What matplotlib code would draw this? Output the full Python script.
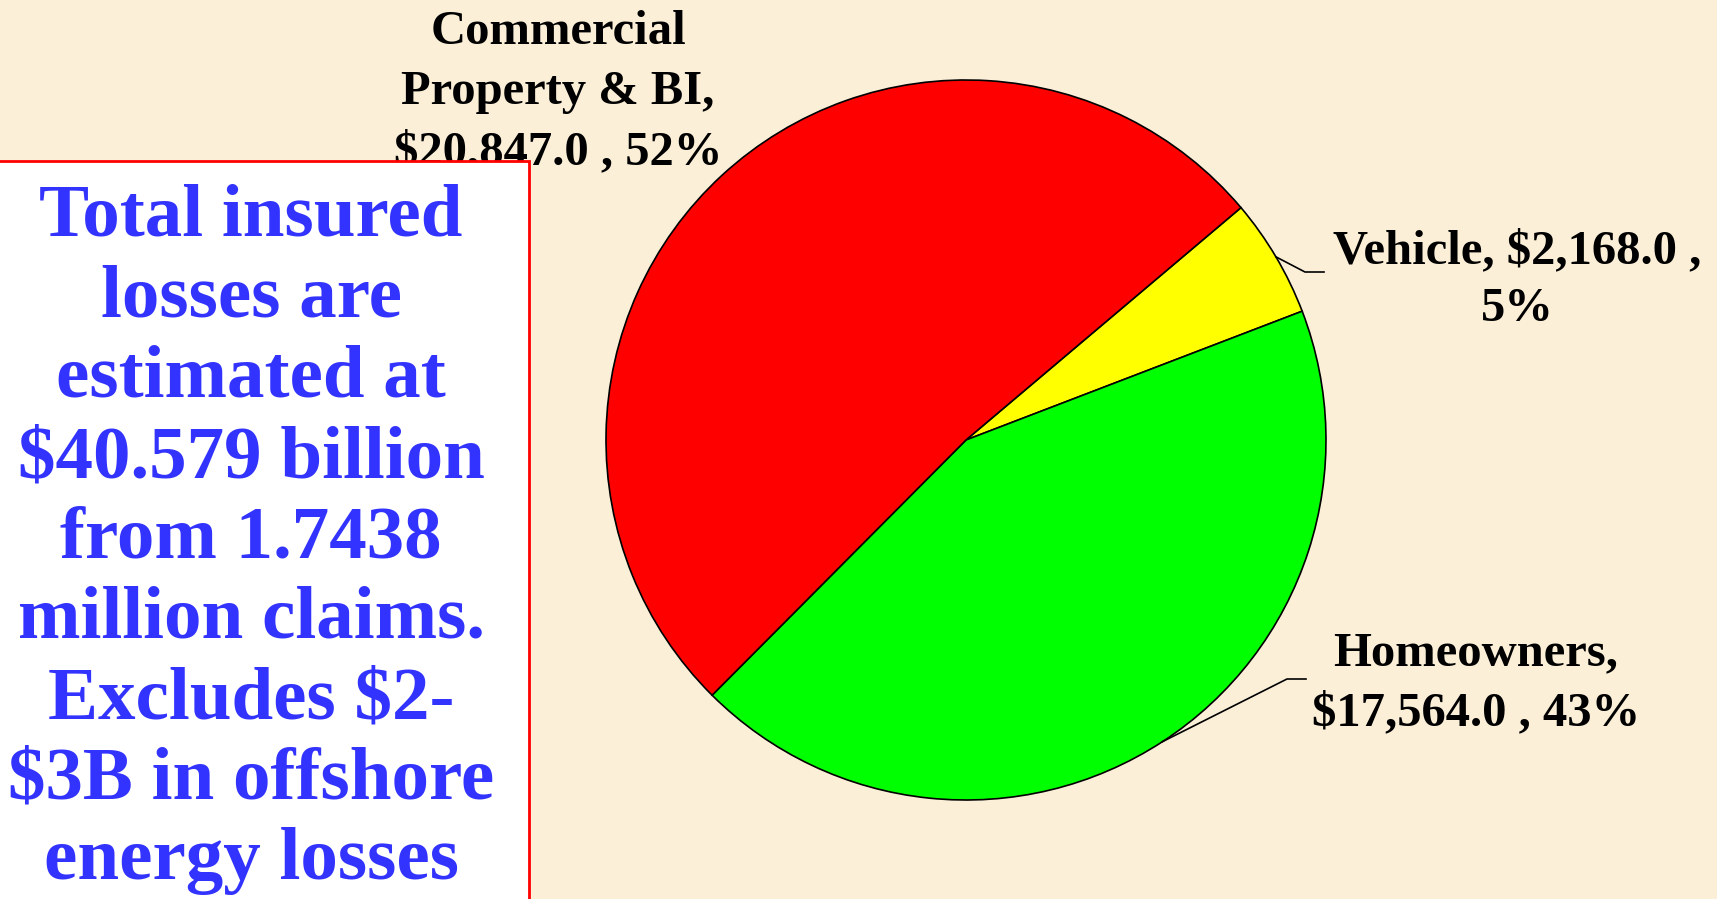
import matplotlib
matplotlib.use("Agg")
import matplotlib.pyplot as plt
from matplotlib.patches import Rectangle
import numpy as np

# Insured losses by line of business ($ millions) and their stated shares
categories = ["Vehicle", "Homeowners", "Commercial\nProperty & BI"]
losses = [2168.0, 17564.0, 20847.0]
shares = [5, 43, 52]
colors = ["#FFFF00", "#00FF00", "#FF0000"]

note_lines = [
    "Total insured",
    "losses are",
    "estimated at",
    "$40.579 billion",
    "from 1.7438",
    "million claims.",
    "Excludes $2-",
    "$3B in offshore",
    "energy losses",
]

W, H = 1717, 899
BG = "#FBEFD8"
SERIF = ["Liberation Serif", "DejaVu Serif"]

fig = plt.figure(figsize=(W / 100, H / 100), dpi=100, facecolor=BG)


def fx(px):
    return px / W


def fy(py):
    return 1 - py / H


# Pie axes: centre (966, 440) px, radius 360 px
cx, cy, r = 966, 440, 360
ax = fig.add_axes([fx(cx - r), fy(cy + r), 2 * r / W, 2 * r / H])
ax.set_facecolor("none")
wedges, _ = ax.pie(
    losses,
    colors=colors,
    startangle=40.2,
    counterclock=False,
    radius=1.0,
    wedgeprops=dict(edgecolor="black", linewidth=1.2),
)
ax.set_aspect("equal")
ax.axis("off")
ax.set_xlim(-1, 1)
ax.set_ylim(-1, 1)


def amount(i):
    return f"${losses[i]:,.1f}"


def draw_lines(lines, x, y0, step, **kw):
    for k, ln in enumerate(lines):
        fig.text(fx(x), fy(y0 + k * step), ln, ha="center", va="baseline", **kw)


lab_kw = dict(fontsize=35, fontweight="bold", family=SERIF, color="black", zorder=3)

# Commercial label (top, partly under the note box)
draw_lines(categories[2].split("\n")[:1]
           + [categories[2].split("\n")[1] + ","]
           + [f"{amount(2)} , {shares[2]}%"], 558, 44, 60, **lab_kw)

# Vehicle label
draw_lines([f"{categories[0]}, {amount(0)} ,", f"{shares[0]}%"], 1517, 263, 58, **lab_kw)

# Homeowners label
draw_lines([f"{categories[1]},", f"{amount(1)} , {shares[1]}%"], 1476, 665, 60, **lab_kw)


# Leader lines from wedge mid-angles on the rim
def leader(wedge, elbow_px, end_px):
    mid = np.deg2rad((wedge.theta1 + wedge.theta2) / 2)
    sx, sy = cx + r * np.cos(mid), cy - r * np.sin(mid)
    xs = [fx(sx), fx(elbow_px[0]), fx(end_px[0])]
    ys = [fy(sy), fy(elbow_px[1]), fy(end_px[1])]
    fig.add_artist(plt.Line2D(xs, ys, color="black", linewidth=1.2, zorder=3))


leader(wedges[0], (1305, 272), (1324, 272))
leader(wedges[1], (1287, 679), (1306, 679))

# Note box
box = Rectangle((fx(-3), fy(905)), fx(532), fy(161) - fy(905),
                transform=fig.transFigure, facecolor="white",
                edgecolor="#FF0000", linewidth=2, zorder=4)
fig.add_artist(box)
for k, ln in enumerate(note_lines):
    fig.text(fx(251), fy(236 + k * 80.4), ln, ha="center", va="baseline",
             fontsize=54, fontweight="bold", family=SERIF, color="#3333FF", zorder=5)

fig.savefig("out.png", dpi=100, facecolor=BG)
